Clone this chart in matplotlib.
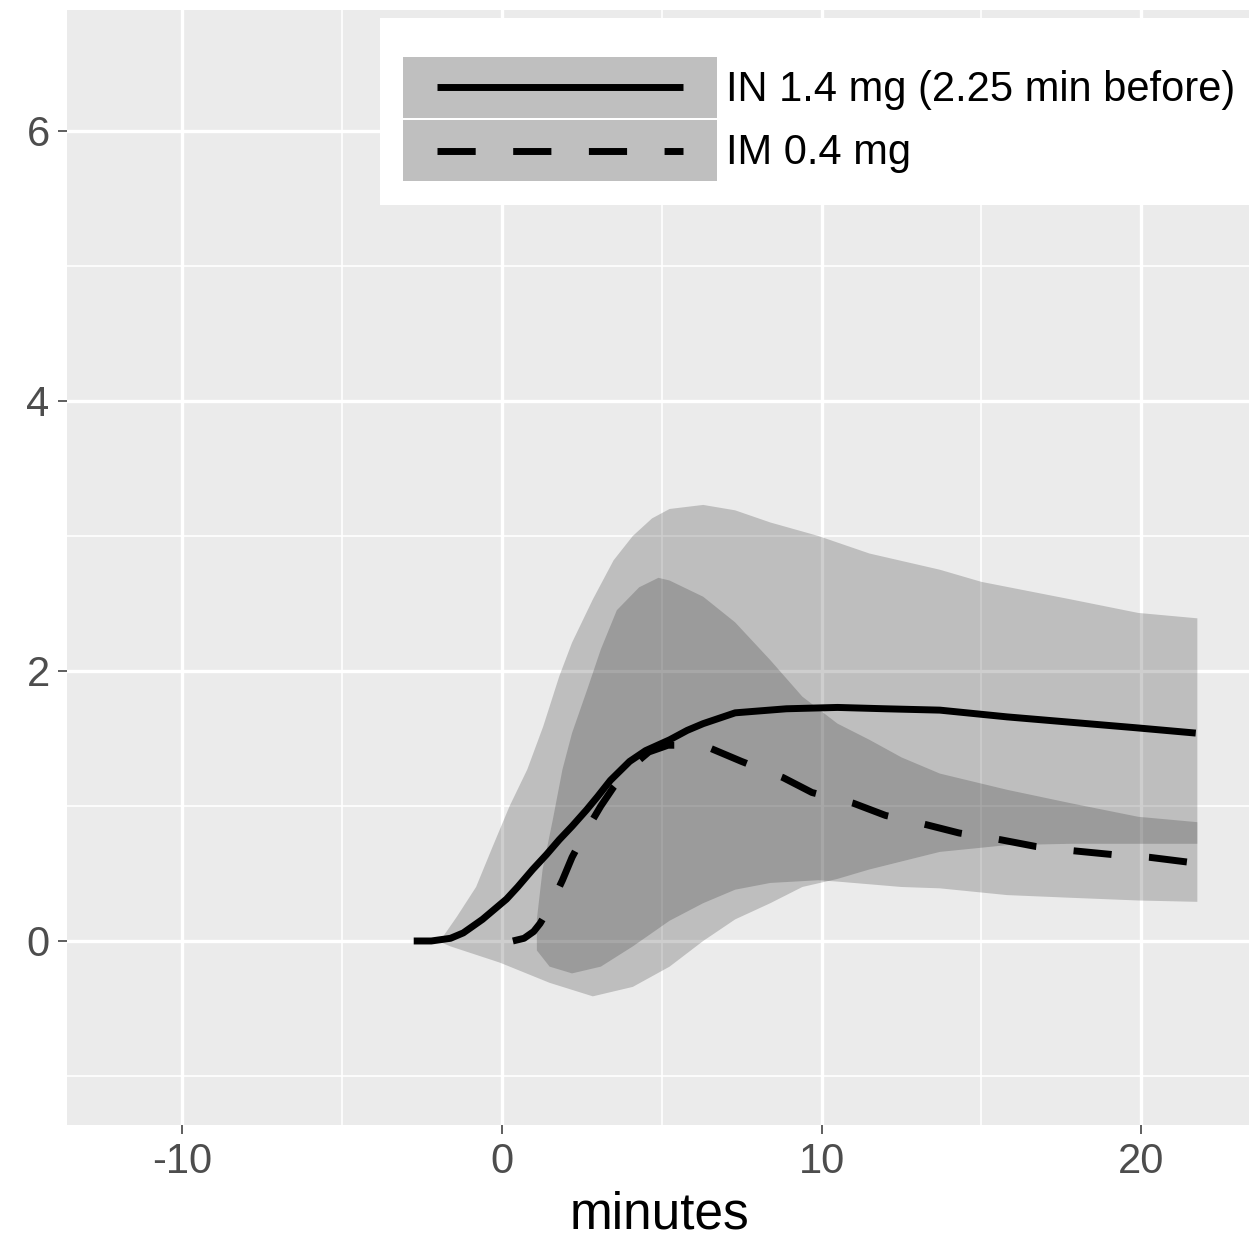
import numpy as np
import matplotlib
matplotlib.use("agg")
import matplotlib.pyplot as plt
from matplotlib.patches import Rectangle
from matplotlib.lines import Line2D
from matplotlib.legend_handler import HandlerBase

plt.rcParams['font.family'] = ['Liberation Sans', 'DejaVu Sans']
plt.rcParams['axes.unicode_minus'] = False

# median curves
in_t = [-2.75, -2.2, -1.9, -1.6, -1.2, -0.6, -0.2, 0.15, 0.5, 0.97, 1.4, 1.8,
        2.2, 2.65, 3.0, 3.4, 4.0, 4.5, 5.25, 5.8, 6.3, 7.3, 8.9, 10.5, 12.0,
        13.7, 15.8, 17.8, 19.8, 21.7]
in_y = [0.0, 0.0, 0.01, 0.02, 0.06, 0.16, 0.24, 0.31, 0.40, 0.53, 0.64, 0.75,
        0.85, 0.97, 1.07, 1.19, 1.33, 1.41, 1.49, 1.56, 1.61, 1.69, 1.72, 1.73,
        1.72, 1.71, 1.66, 1.62, 1.58, 1.54]

im_t = [0.35, 0.7, 1.0, 1.2, 1.4, 1.6, 1.9, 2.2, 2.65, 3.1, 3.5, 4.0, 4.6, 5.2,
        5.8, 6.5, 7.5, 8.8, 9.7, 11.0, 12.0, 13.3, 14.3, 15.6, 16.7, 17.8, 19.1,
        20.25, 21.6]
im_y = [0.0, 0.02, 0.07, 0.13, 0.21, 0.30, 0.45, 0.62, 0.82, 1.0, 1.14, 1.28,
        1.40, 1.45, 1.45, 1.43, 1.33, 1.21, 1.10, 1.02, 0.93, 0.86, 0.80, 0.75,
        0.70, 0.67, 0.64, 0.62, 0.58]

# bands
in_up_t = [-2.0, -1.84, -1.4, -0.8, -0.28, 0.25, 0.8, 1.3, 1.8, 2.2, 2.85, 3.5,
           4.1, 4.7, 5.25, 6.3, 7.3, 8.4, 9.9, 11.5, 13.7, 15.0, 17.8, 19.9, 21.75]
in_up = [0.0, 0.03, 0.18, 0.40, 0.70, 1.0, 1.27, 1.59, 1.96, 2.21, 2.53, 2.82,
         3.0, 3.13, 3.20, 3.23, 3.19, 3.10, 3.0, 2.87, 2.75, 2.66, 2.53, 2.43, 2.39]
in_lo_t = [-2.0, -1.6, -0.06, 1.5, 2.85, 4.1, 5.25, 6.3, 7.3, 8.4, 9.4, 10.5,
           11.5, 13.7, 15.8, 17.8, 19.9, 21.75]
in_lo = [0.0, -0.04, -0.16, -0.31, -0.41, -0.34, -0.19, 0.0, 0.16, 0.28, 0.40,
         0.46, 0.53, 0.66, 0.71, 0.72, 0.72, 0.72]

im_up_t = [1.1, 1.28, 1.6, 1.9, 2.2, 2.7, 3.1, 3.6, 4.3, 4.9, 5.25, 6.3, 7.3,
           8.4, 9.4, 10.5, 11.5, 12.5, 13.7, 15.8, 17.8, 19.9, 21.75]
im_up = [0.16, 0.53, 0.90, 1.27, 1.54, 1.88, 2.16, 2.45, 2.62, 2.69, 2.67, 2.55,
         2.36, 2.08, 1.81, 1.61, 1.49, 1.36, 1.24, 1.12, 1.02, 0.92, 0.88]
im_lo_t = [1.1, 1.5, 2.2, 3.1, 4.1, 5.25, 6.3, 7.3, 8.4, 9.9, 10.5, 12.5, 13.7,
           15.8, 17.8, 19.9, 21.75]
im_lo = [-0.07, -0.19, -0.24, -0.19, -0.04, 0.15, 0.28, 0.38, 0.43, 0.45, 0.44,
         0.40, 0.39, 0.34, 0.32, 0.30, 0.29]

labels = ['IN 1.4 mg (2.25 min before)', 'IM 0.4 mg']

W, H = 1249, 1244
DASH = (0, (5.5, 5.4))
FS = 30


class KeyHandler(HandlerBase):
    def create_artists(self, legend, orig_handle, xdescent, ydescent,
                       width, height, fontsize, trans):
        box = Rectangle((-xdescent, -ydescent), width, height,
                        facecolor='#BFBFBF', edgecolor='none', transform=trans)
        pad = width * 0.108
        ln = Line2D([-xdescent + pad, -xdescent + width - pad],
                    [height / 2 - ydescent] * 2)
        ln.update_from(orig_handle)
        ln.set_transform(trans)
        return [box, ln]


fig = plt.figure(figsize=(W / 100, H / 100), dpi=100)
ax = fig.add_axes([67 / W, 1 - 1125 / H, (1253 - 67) / W, (1125 - 10) / H])
ax.set_facecolor('#EBEBEB')
for s in ax.spines.values():
    s.set_visible(False)

ax.set_xlim(-13.59, 23.49)
ax.set_ylim(-1.363, 6.896)
ax.set_xticks([-10, 0, 10, 20])
ax.set_xticks([-5, 5, 15], minor=True)
ax.set_yticks([0, 2, 4, 6])
ax.set_yticks([-1, 1, 3, 5], minor=True)
ax.set_axisbelow(True)
ax.grid(which='major', color='white', lw=2.4)
ax.grid(which='minor', color='white', lw=1.2)
ax.tick_params(which='minor', length=0)
ax.tick_params(which='major', length=6.5, width=1.1, color='#333333',
               labelcolor='#4D4D4D', labelsize=FS, pad=6)

ax.fill(np.r_[in_up_t, in_lo_t[::-1]], np.r_[in_up, in_lo[::-1]],
        color='#202020', alpha=0.22, lw=0)
ax.fill(np.r_[im_up_t, im_lo_t[::-1]], np.r_[im_up, im_lo[::-1]],
        color='#202020', alpha=0.22, lw=0)

ax.plot(in_t, in_y, color='black', lw=5, solid_capstyle='butt')
ax.plot(im_t, im_y, color='black', lw=5, ls=DASH, dash_capstyle='butt')

ax.set_xlabel('minutes', fontsize=37, labelpad=6)

# white legend box
ax.add_patch(Rectangle((380 / W, 1 - 205 / H), (W - 380) / W + 0.01, (205 - 18) / H,
                       transform=fig.transFigure, facecolor='white',
                       edgecolor='none', zorder=4, clip_on=False))

h1 = Line2D([], [], color='black', lw=5, solid_capstyle='butt')
h2 = Line2D([], [], color='black', lw=5, ls=DASH, dash_capstyle='butt')
px = FS * 100 / 72
key_h = 61 / px
ax.legend([h1, h2], labels, handler_map={Line2D: KeyHandler()},
          loc='upper left', bbox_to_anchor=(403 / W, 1 - 57 / H),
          bbox_transform=fig.transFigure, frameon=False, borderpad=0,
          borderaxespad=0, handlelength=314 / px,
          handleheight=(key_h - 0.245) / 0.65,
          handletextpad=0.22, labelspacing=0.05, fontsize=FS)

fig.savefig('out.png', dpi=100)
